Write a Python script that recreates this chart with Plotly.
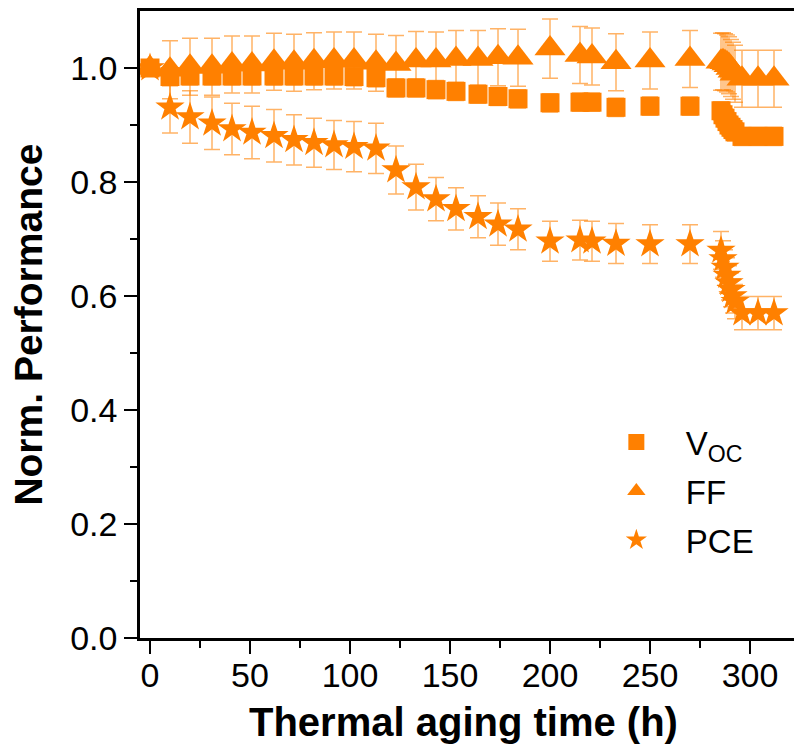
import plotly.graph_objects as go

# aging time (h)
time_h = [0, 10, 20, 31, 41, 51, 62, 72, 82, 92, 102, 113, 123, 133, 143, 153,
          164, 174, 184, 200, 215, 221, 233, 250, 270, 285.5, 286.5, 287.5,
          288.5, 289.5, 290.5, 291.5, 292.5, 296, 304, 312]

voc = [1.0, 0.985, 0.986, 0.986, 0.986, 0.986, 0.986, 0.986, 0.986, 0.986,
       0.985, 0.983, 0.965, 0.965, 0.962, 0.959, 0.954, 0.950, 0.946, 0.939,
       0.940, 0.940, 0.931, 0.933, 0.933, 0.925, 0.918, 0.912, 0.906, 0.900,
       0.896, 0.892, 0.888, 0.880, 0.880, 0.880]
voc_err = [0] + [0.016] * 35

ff = [1.0, 0.997, 1.002, 1.002, 1.006, 1.006, 1.011, 1.009, 1.012, 1.013,
      1.013, 1.009, 1.007, 1.013, 1.013, 1.016, 1.016, 1.019, 1.018, 1.034,
      1.023, 1.020, 1.010, 1.013, 1.016, 1.011, 1.012, 1.010, 1.008, 1.005,
      1.000, 0.995, 0.990, 0.981, 0.981, 0.981]
ff_err = [0, 0.051, 0.050, 0.050, 0.050, 0.050, 0.050, 0.050, 0.050, 0.050,
          0.050, 0.050, 0.050, 0.051, 0.050, 0.050, 0.050, 0.050, 0.050, 0.052,
          0.050, 0.050, 0.050, 0.050, 0.050, 0.050, 0.050, 0.050, 0.050, 0.050,
          0.050, 0.050, 0.050, 0.050, 0.050, 0.050]

pce = [1.0, 0.931, 0.914, 0.903, 0.893, 0.887, 0.881, 0.874, 0.869, 0.865,
       0.862, 0.859, 0.821, 0.791, 0.770, 0.753, 0.739, 0.726, 0.717, 0.696,
       0.698, 0.696, 0.692, 0.691, 0.691, 0.680, 0.665, 0.650, 0.636, 0.623,
       0.611, 0.600, 0.590, 0.570, 0.570, 0.570]
pce_err = [0, 0.045, 0.046, 0.046, 0.045, 0.046, 0.046, 0.044, 0.043, 0.043,
           0.044, 0.044, 0.042, 0.040, 0.038, 0.037, 0.037, 0.037, 0.036, 0.035,
           0.035, 0.035, 0.035, 0.034, 0.034, 0.033, 0.032, 0.031, 0.031, 0.030,
           0.030, 0.030, 0.030, 0.029, 0.029, 0.029]

orange = "#FF8000"
err_col = "rgba(255,128,0,0.6)"
font_fam = "Arial, Liberation Sans, sans-serif"


def err(vals):
    return dict(type="data", array=vals, visible=True, color=err_col,
                thickness=1.5, width=8)


fig = go.Figure()

fig.add_trace(go.Scatter(x=time_h, y=ff, mode="markers", name="FF",
                         legendrank=2, legendgroup="ff", error_y=err(ff_err),
                         marker=dict(symbol="triangle-up", size=27, color=orange)))
fig.add_trace(go.Scatter(x=time_h, y=voc, mode="markers", name="V<sub>OC</sub>",
                         legendrank=1, legendgroup="voc", error_y=err(voc_err),
                         marker=dict(symbol="square", size=19, color=orange)))
fig.add_trace(go.Scatter(x=time_h, y=pce, mode="markers", name="PCE",
                         legendrank=3, legendgroup="pce", error_y=err(pce_err),
                         marker=dict(symbol="star", size=22, color=orange)))

# page body has an 8px margin, so the figure is 8px smaller than the window
fig.update_layout(
    width=794, height=738,
    margin=dict(l=132, r=0, t=3, b=108),
    plot_bgcolor="white", paper_bgcolor="white",
    font=dict(family=font_fam, size=34, color="black"),
    legend=dict(x=0.675, y=0.357, xanchor="left", yanchor="top",
                font=dict(size=33), bgcolor="rgba(0,0,0,0)",
                itemwidth=89, tracegroupgap=3),
)

# axis titles as annotations for exact placement
fig.add_annotation(text="<b>Thermal aging time (h)</b>", xref="paper", yref="paper",
                   x=0.489, y=-0.095, xanchor="center", yanchor="top",
                   showarrow=False, font=dict(size=40))
fig.add_annotation(text="<b>Norm. Performance</b>", xref="paper", yref="paper",
                   x=-0.169, y=0.5, xanchor="center", yanchor="middle",
                   textangle=-90, showarrow=False, font=dict(size=39))

fig.update_xaxes(
    range=[-5, 326], showgrid=False, zeroline=False, automargin=False,
    showline=True, linecolor="black", linewidth=2.5, mirror=True,
    tickmode="array", tickvals=[0, 50, 100, 150, 200, 250, 300],
    ticks="outside", ticklen=13, tickwidth=2, tickcolor="black",
    minor=dict(tickvals=[25, 75, 125, 175, 225, 275, 325], ticks="outside",
               ticklen=7, tickwidth=2, tickcolor="black"),
    tickfont=dict(size=34), ticklabelstandoff=-8,
)
fig.update_yaxes(
    range=[0, 1.1], showgrid=False, zeroline=False, automargin=False,
    showline=True, linecolor="black", linewidth=2.5,
    tickvals=[0, 0.2, 0.4, 0.6, 0.8, 1.0], tickformat=".1f",
    ticks="outside", ticklen=13, tickwidth=2, tickcolor="black",
    minor=dict(tickvals=[0.1, 0.3, 0.5, 0.7, 0.9], ticks="outside",
               ticklen=7, tickwidth=2, tickcolor="black"),
    tickfont=dict(size=34),
)

fig.write_html("out.html")
